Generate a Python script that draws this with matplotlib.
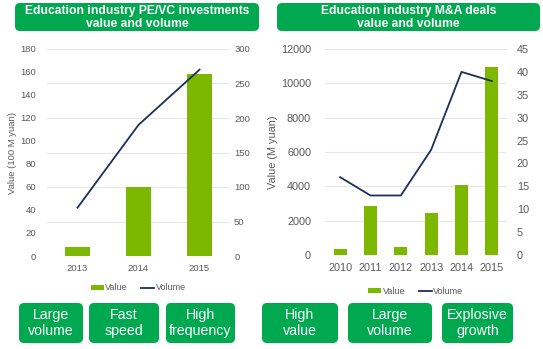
import matplotlib
matplotlib.use("Agg")
import matplotlib.pyplot as plt
from matplotlib.patches import FancyBboxPatch, Patch
from matplotlib.lines import Line2D

plt.rcParams['font.family'] = ['Liberation Sans', 'DejaVu Sans']

# PE/VC investments
pe_years = ["2013", "2014", "2015"]
pe_value = [8, 60, 158]          # 100 M yuan
pe_volume = [70, 190, 270]

# M&A deals
ma_years = ["2010", "2011", "2012", "2013", "2014", "2015"]
ma_value = [350, 2850, 450, 2450, 4100, 10950]   # M yuan
ma_volume = [17, 13, 13, 23, 40, 38]

titles = ["Education industry PE/VC investments\nvalue and volume",
          "Education industry M&A deals\nvalue and volume"]
left_tags = ["Large\nvolume", "Fast\nspeed", "High\nfrequency"]
right_tags = ["High\nvalue", "Large\nvolume", "Explosive\ngrowth"]

BAR = "#7cb800"
LINE = "#1c2f5a"
BOX = "#00a84f"
TXT = "#595959"
GRID = "#e8e8e8"

W, H = 543, 349
fig = plt.figure(figsize=(W / 100, H / 100), dpi=100)

# overlay in pixel coordinates for the green boxes
ov = fig.add_axes([0, 0, 1, 1], zorder=0)
ov.set_xlim(0, W)
ov.set_ylim(H, 0)
ov.axis("off")


def box(x0, y0, x1, y1, text, size, bold=False):
    p = FancyBboxPatch((x0, y0), x1 - x0, y1 - y0,
                       boxstyle="round,pad=0,rounding_size=5",
                       facecolor=BOX, edgecolor="none")
    ov.add_patch(p)
    ov.text((x0 + x1) / 2, (y0 + y1) / 2 + (0.5 if bold else 0), text,
            ha="center", va="center", color="white", fontsize=size,
            fontweight="bold" if bold else "normal",
            linespacing=1.02 if bold else 1.12)


box(15, 3, 259, 31, titles[0], 8.7, bold=True)
box(277, 3, 540, 31, titles[1], 8.7, bold=True)

for (x0, x1), t in zip([(19, 83), (89, 159), (166, 235)], left_tags):
    box(x0, 303, x1, 343, t, 10.2)
for (x0, x1), t in zip([(262, 338), (348, 432), (442, 513)], right_tags):
    box(x0, 303, x1, 343, t, 10.2)


def panel(rect, years, values, volumes, vmax, vstep, wmax, wstep,
          ylabel, fs, lpad, rpad, legend_y, grid_on_right):
    ax = fig.add_axes(rect, zorder=2)
    ax2 = ax.twinx()
    ax.patch.set_visible(False)
    x = list(range(len(years)))
    ax.bar(x, values, width=0.42, color=BAR, zorder=3)
    ax2.plot(x, volumes, color=LINE, lw=1.3, zorder=4)
    ax.set_xlim(-0.5, len(years) - 0.5)
    ax.set_ylim(0, vmax)
    ax2.set_ylim(0, wmax)
    lt = [i * vstep for i in range(int(vmax / vstep) + 1)]
    rt = [i * wstep for i in range(int(wmax / wstep) + 1)]
    ax.set_yticks(lt)
    ax2.set_yticks(rt)
    # horizontal gridlines behind bars
    gl = [t * vmax / wmax for t in rt] if grid_on_right else lt
    for g in gl[1:]:
        ax.axhline(g, color=GRID, lw=0.8, zorder=0)
    ax.set_xticks(x)
    ax.set_xticklabels(years)
    for a in (ax, ax2):
        for s in a.spines.values():
            s.set_visible(False)
        a.tick_params(length=0, labelsize=fs, colors=TXT)
    ax.tick_params(axis="y", pad=lpad)
    ax2.tick_params(axis="y", pad=rpad)
    ax.tick_params(axis="x", pad=6)
    ax.set_ylabel(ylabel, fontsize=fs, color=TXT, labelpad=2)
    handles = [Patch(facecolor=BAR, edgecolor="none"),
               Line2D([0], [0], color=LINE, lw=1.3)]
    cx = rect[0] + rect[2] / 2
    fig.legend(handles, ["Value", "Volume"], loc="center",
               bbox_to_anchor=(cx, legend_y), ncol=2, frameon=False,
               fontsize=6.5, handlelength=1.4, handleheight=0.5,
               handletextpad=0.2, columnspacing=1.5, labelcolor=TXT)
    return ax, ax2


panel([47 / W, 93 / H, 183 / W, 207 / H], pe_years, pe_value, pe_volume,
      180, 20, 300, 50, "Value (100 M yuan)", 6.8, 8, 3,
      1 - 288 / H, True)
panel([325 / W, 94 / H, 182 / W, 206 / H], ma_years, ma_value, ma_volume,
      12000, 2000, 45, 5, "Value (M yuan)", 7.8, 10, 7,
      1 - 291 / H, False)

fig.savefig("out.png", dpi=100)
